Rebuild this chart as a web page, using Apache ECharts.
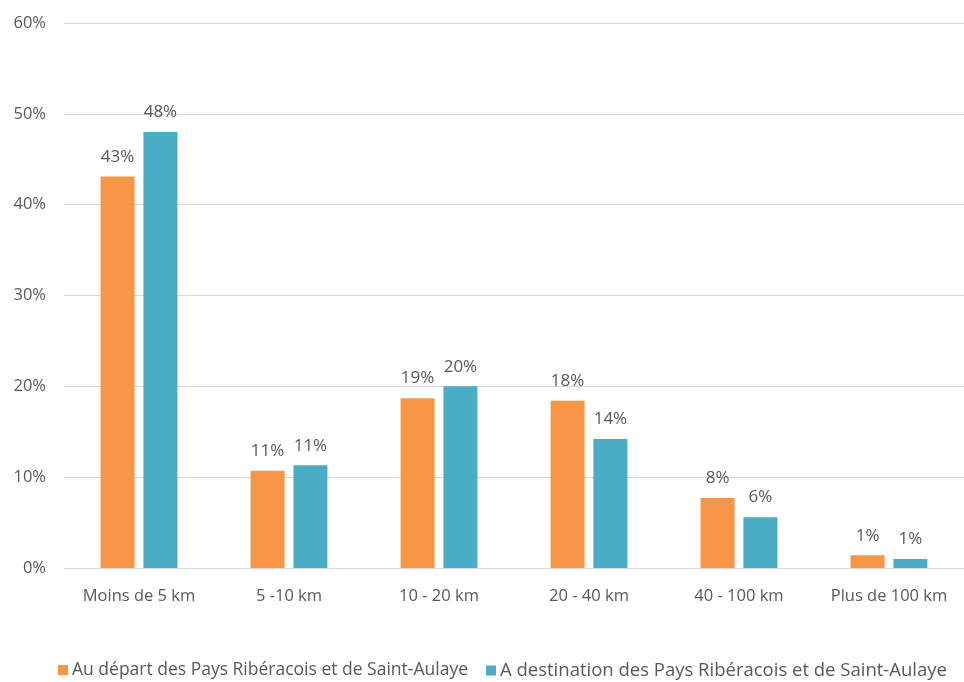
<!DOCTYPE html>
<html><head><meta charset="utf-8">
<script src="https://cdn.jsdelivr.net/npm/echarts@6/dist/echarts.min.js"></script>
<style>html,body{margin:0;padding:0;background:#fff}#c{width:964px;height:682px}</style>
</head><body><div id="c"></div>
<script>
const categories = ['Moins de 5 km', '5 -10 km', '10 - 20 km', '20 - 40 km', '40 - 100 km', 'Plus de 100 km'];
const seriesNames = ['Au départ des Pays Ribéracois et de Saint-Aulaye', 'A destination des Pays Ribéracois et de Saint-Aulaye'];
const departValues = [43.1, 10.7, 18.7, 18.4, 7.7, 1.4];
const destinationValues = [48.0, 11.3, 20.0, 14.2, 5.6, 1.0];
const yTicks = [0, 10, 20, 30, 40, 50, 60];

const textColor = '#595959';
const font = 'Open Sans';
const chart = echarts.init(document.getElementById('c'));
const lbl = {
  show: true, position: 'top', distance: 11, color: textColor, fontFamily: font, fontSize: 17,
  formatter: p => Math.round(p.value) + '%'
};
const legendBase = {
  top: 656, itemWidth: 10, itemHeight: 10, itemGap: 14, icon: 'rect',
  textStyle: { color: textColor, fontFamily: font, fontSize: 17.5, padding: [0, 0, 0, -1] }
};
chart.setOption({
  animation: false,
  grid: { left: 64, right: -2, top: 23, bottom: 114 },
  legend: [
    Object.assign({}, legendBase, { left: 53, data: [seriesNames[0]] }),
    Object.assign({}, legendBase, { left: 481, data: [seriesNames[1]],
      textStyle: Object.assign({}, legendBase.textStyle, { fontSize: 18.5 }) })
  ],
  xAxis: {
    type: 'category', data: categories,
    axisLine: { lineStyle: { color: '#d9d9d9', width: 1 } },
    axisTick: { show: false },
    axisLabel: { color: textColor, fontFamily: font, fontSize: 16.5, margin: 20, interval: 0 }
  },
  yAxis: {
    type: 'value', min: yTicks[0], max: yTicks[yTicks.length - 1], interval: 10,
    axisLine: { show: false }, axisTick: { show: false },
    splitLine: { lineStyle: { color: '#d9d9d9', width: 1 } },
    axisLabel: { color: textColor, fontFamily: font, fontSize: 16.5, margin: 18, formatter: '{value}%' }
  },
  series: [
    { name: seriesNames[0], type: 'bar', data: departValues, barWidth: 34, barGap: '26%',
      itemStyle: { color: '#F79646' }, label: lbl },
    { name: seriesNames[1], type: 'bar', data: destinationValues, barWidth: 34,
      itemStyle: { color: '#4BACC6' }, label: lbl }
  ]
});
</script></body></html>
